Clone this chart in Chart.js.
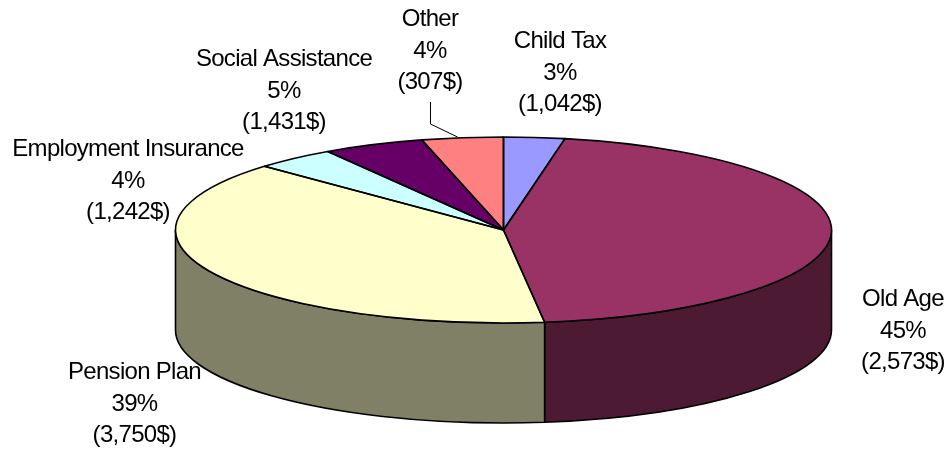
<!DOCTYPE html>
<html>
<head>
<meta charset="utf-8">
<style>
  html, body { margin: 0; padding: 0; background: #ffffff; }
  canvas { display: block; }
</style>
<script src="https://cdn.jsdelivr.net/npm/chart.js@4"></script>
</head>
<body>
<canvas id="pie" width="950" height="450"></canvas>
<script>
// Income transfers by program
const categories = ["Child Tax", "Old Age", "Pension Plan", "Employment Insurance", "Social Assistance", "Other"];
const percents = [3, 45, 39, 4, 5, 4];
const amounts = ["1,042$", "2,573$", "3,750$", "1,242$", "1,431$", "307$"];
const topColors = ["#9999FF", "#993366", "#FFFFCC", "#CCFFFF", "#660066", "#FF8080"];
const wallColors = ["#4D4D80", "#4D1A33", "#808066", "#668080", "#330033", "#804040"];

// Centre of each three-line label and baseline of its first line
const labelAnchors = [[560, 48], [903, 306], [134.5, 379], [128, 156], [284, 66], [430, 26]];
const lineHeight = 31.6;
const leaderLine = [[430, 102], [430, 124], [457, 137]];

// Tilted disc geometry
const discRx = 328;
const discRy = 93;
const discDepth = 100;
const outline = "#000000";
const outlineWidth = 1.6;

function arcsOf(chart) {
  return chart.getDatasetMeta(0).data.map(function (el) {
    return el.getProps(["x", "y", "startAngle", "endAngle", "outerRadius"], true);
  });
}

const tiltedPie = {
  id: "tiltedPie",
  beforeDatasetsDraw(chart) {
    const ctx = chart.ctx;
    const arcs = arcsOf(chart);

    // Side wall: only the part of each slice facing the viewer
    ctx.save();
    ctx.lineWidth = outlineWidth;
    ctx.strokeStyle = outline;
    ctx.lineJoin = "round";
    arcs.forEach(function (a, i) {
      const from = Math.max(a.startAngle, 0);
      const to = Math.min(a.endAngle, Math.PI);
      if (to <= from) return;
      ctx.beginPath();
      ctx.ellipse(a.x, a.y, discRx, discRy, 0, from, to);
      ctx.ellipse(a.x, a.y + discDepth, discRx, discRy, 0, to, from, true);
      ctx.closePath();
      ctx.fillStyle = wallColors[i];
      ctx.fill();
      ctx.stroke();
    });
    ctx.restore();

    // Squash the library's round arcs into the top face of the disc
    const first = arcs[0];
    ctx.save();
    ctx.translate(first.x, first.y);
    ctx.scale(discRx / first.outerRadius, discRy / first.outerRadius);
    ctx.translate(-first.x, -first.y);
  },
  afterDatasetsDraw(chart) {
    const ctx = chart.ctx;
    ctx.restore();

    // Slice outlines are stroked untransformed to keep an even line width
    ctx.save();
    ctx.lineWidth = outlineWidth;
    ctx.strokeStyle = outline;
    ctx.lineJoin = "round";
    arcsOf(chart).forEach(function (a) {
      ctx.beginPath();
      ctx.moveTo(a.x, a.y);
      ctx.ellipse(a.x, a.y, discRx, discRy, 0, a.startAngle, a.endAngle);
      ctx.closePath();
      ctx.stroke();
    });
    ctx.restore();
  },
  afterDraw(chart) {
    const ctx = chart.ctx;
    ctx.save();

    // Leader from the "Other" label to its slice
    ctx.lineWidth = 1;
    ctx.strokeStyle = "#000000";
    ctx.beginPath();
    leaderLine.forEach(function (p, i) {
      if (i === 0) ctx.moveTo(p[0] + 0.5, p[1]);
      else ctx.lineTo(p[0] + 0.5, p[1]);
    });
    ctx.stroke();

    // Three-line slice labels: name, share, amount
    ctx.fillStyle = "#000000";
    ctx.font = '24px "Liberation Sans", Arial, sans-serif';
    ctx.letterSpacing = "-0.7px";
    ctx.textAlign = "center";
    ctx.textBaseline = "alphabetic";
    categories.forEach(function (name, i) {
      const x = labelAnchors[i][0];
      const y = labelAnchors[i][1];
      ctx.fillText(name, x, y);
      ctx.fillText(percents[i] + "%", x, y + lineHeight);
      ctx.fillText("(" + amounts[i] + ")", x, y + lineHeight * 2);
    });
    ctx.restore();
  }
};

new Chart(document.getElementById("pie"), {
  type: "pie",
  data: {
    labels: categories,
    datasets: [{
      data: percents,
      backgroundColor: topColors,
      borderWidth: 0,
      clip: false
    }]
  },
  options: {
    responsive: false,
    animation: false,
    layout: { padding: { left: 57, top: 10 } },
    plugins: { legend: { display: false }, tooltip: { enabled: false } }
  },
  plugins: [tiltedPie]
});
</script>
</body>
</html>
